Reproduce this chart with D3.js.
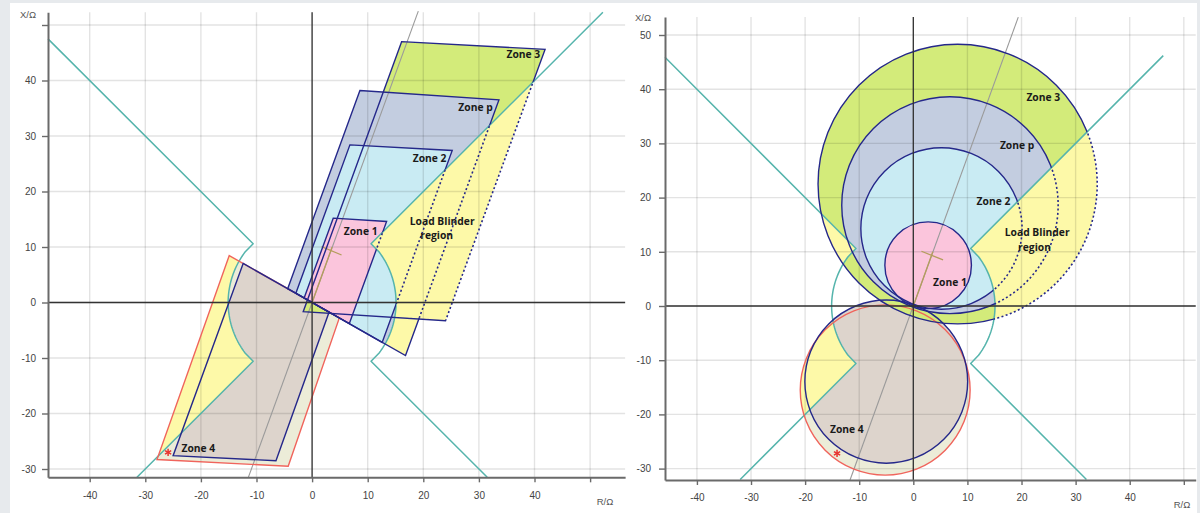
<!DOCTYPE html>
<html>
<head>
<meta charset="utf-8">
<script src="https://cdn.jsdelivr.net/npm/d3@7"></script>
<style>
  body { margin: 0; background: #e7eaed; }
  svg { display: block; }
</style>
</head>
<body>
<svg id="chart" width="1200" height="513"></svg>
<script>
// ---------- tick values ----------
const xTickValues = [-40, -30, -20, -10, 0, 10, 20, 30, 40, 50];
const xTickLabels = ["-40", "-30", "-20", "-10", "0", "10", "20", "30", "40", ""];
const yTickValues = [-30, -20, -10, 0, 10, 20, 30, 40, 50];
const yTickLabelsQuad = ["-30", "-20", "-10", "0", "10", "20", "30", "40", ""];
const yTickLabelsMho = ["-30", "-20", "-10", "0", "10", "20", "30", "40", "50"];

// ---------- quadrilateral characteristic, vertices (R, X) in ohm ----------
const quadZone1 = [[3.8, 15.2], [13.4, 14.6], [6.7, -3.8], [-1.43, 0.81]];
const quadZone2 = [[6.8, 28.4], [25.2, 27.4], [12.6, -7.2], [-2.92, 1.66]];
const quadZoneP = [[8.6, 38.2], [33.6, 36.5], [16.8, -9.55], [-4.39, 2.49]];
const quadZone3 = [[16.1, 47.0], [41.9, 45.6], [24.0, -3.3], [-1.6, -1.66]];
const quadZone4Inner = [[-12.4, 7.03], [3.06, -1.73], [-6.5, -28.5], [-25.0, -27.6]];
const quadZone4Outer = [[-14.9, 8.45], [4.9, -2.78], [-4.3, -29.5], [-27.9, -28.3]];

// ---------- mho characteristic, [centre R, centre X, radius] in ohm ----------
const mhoZone1 = [2.74, 7.52, 8.0];
const mhoZone2 = [5.2, 14.3, 14.9];
const mhoZoneP = [6.77, 18.6, 20.0];
const mhoZone3 = [8.19, 22.5, 25.8];
const mhoZone4Inner = [-5.0, -13.95, 15.05];
const mhoZone4Outer = [-5.2, -15.5, 15.7];

// ---------- load encroachment (blinder) ----------
const loadCorner = 10.6;     // |R| = |X| of the blinder corners
const loadRadius = 15.1;     // minimum load impedance
const loadArcLimit = 37;     // arc half-angle, degrees
// [upper-left, lower-left, upper-right, lower-right] ends of the blinder lines
const loadEndsQuad = [[-47.5, 47.5], [-31.5, -31.5], [52.3, 52.3], [31.5, -31.5]];
const loadEndsMho = [[-45.9, 45.9], [-32.0, -32.0], [46.2, 46.2], [32.0, -32.0]];

// ---------- line angle, line impedance and fault point ----------
const lineAngleQuad = [[-11.5, -31.6], [19.1, 52.5]];
const lineAngleMho = [[-11.7, -32.1], [19.4, 53.3]];
const lineImpedance = [[0, 0], [3.6, 10.0]];
const lineImpTickQuad = [[1.7, 10.05], [5.3, 8.56]];
const lineImpTickMho = [[1.5, 10.1], [5.5, 8.5]];
const faultQuad = [-25.9, -27.0];
const faultMho = [-14.1, -27.2];

// ---------- zone labels: [text, R, X, anchor] ----------
const labelsQuad = [
  ["Zone 3", 34.96, 44.8, "start"],
  ["Zone p", 26.3, 35.2, "start"],
  ["Zone 2", 18.1, 26.0, "start"],
  ["Zone 1", 5.7, 12.9, "start"],
  ["Load Blinder", 23.4, 14.6, "middle"],
  ["region", 22.4, 12.2, "middle"],
  ["Zone 4", -23.5, -26.2, "start"]
];
const labelsMho = [
  ["Zone 3", 20.9, 38.6, "start"],
  ["Zone p", 16.0, 29.7, "start"],
  ["Zone 2", 11.7, 19.4, "start"],
  ["Load Blinder", 22.9, 13.7, "middle"],
  ["region", 22.4, 10.9, "middle"],
  ["Zone 1", 3.66, 4.5, "start"],
  ["Zone 4", -15.4, -22.7, "start"]
];

// ---------- colours ----------
const C = {
  z1: "#fbc5dc", z2: "#c9ebf3", zp: "#c3cde0", z3: "#d3eb7a",
  z4in: "#ddd4cc", z4out: "#ececd8", load: "#fdf9a8",
  edge: "#25288a", red: "#f0645c", teal: "#55b4ac",
  lineAngle: "#9a9a9a", olive: "#b59d5c", axis: "#6a6a6a", text: "#1a1a1a"
};

const svg = d3.select("#chart");
svg.append("rect").attr("x", 10).attr("y", 3).attr("width", 1187).attr("height", 510).attr("fill", "#ffffff");
const defs = svg.append("defs");

// half-plane clip of a polygon (keeps the side left of a->b)
function clipHalf(poly, a, b) {
  const side = p => (b[0] - a[0]) * (p[1] - a[1]) - (b[1] - a[1]) * (p[0] - a[0]);
  const out = [];
  for (let i = 0; i < poly.length; i++) {
    const p = poly[i], q = poly[(i + 1) % poly.length];
    const sp = side(p), sq = side(q);
    if (sp >= 0) out.push(p);
    if ((sp >= 0) !== (sq >= 0)) {
      const t = sp / (sp - sq);
      out.push([p[0] + t * (q[0] - p[0]), p[1] + t * (q[1] - p[1])]);
    }
  }
  return out;
}

function arcPts(a0, a1, n = 48) {
  return d3.range(n + 1).map(i => {
    const a = (a0 + (a1 - a0) * i / n) * Math.PI / 180;
    return [loadRadius * Math.cos(a), loadRadius * Math.sin(a)];
  });
}

function drawPanel(cfg) {
  const { id, x, y } = cfg;
  const g = svg.append("g");
  const P = p => [x(p[0]), y(p[1])];
  const polyD = pts => "M" + pts.map(p => P(p).join(",")).join("L") + "Z";
  const circleD = c => {
    const cx = x(c[0]), cy = y(c[1]);
    const rx = x(c[0] + c[2]) - cx, ry = cy - y(c[1] + c[2]);
    return `M${cx - rx},${cy}A${rx},${ry} 0 1,0 ${cx + rx},${cy}A${rx},${ry} 0 1,0 ${cx - rx},${cy}Z`;
  };
  const shapeD = z => z.type === "poly" ? polyD(z.data) : circleD(z.data);
  const lineD = pts => d3.line()(pts.map(P));
  const big = "M0,0H1200V513H0Z";

  const lc = loadCorner;
  const rightLoad = [[90, 90], [lc, lc], ...arcPts(loadArcLimit, -loadArcLimit), [lc, -lc], [90, -90]];
  const leftLoad = [[-90, 90], [-lc, lc], ...arcPts(180 - loadArcLimit, 180 + loadArcLimit), [-lc, -lc], [-90, -90]];
  const dotRegion = cfg.dotCut ? clipHalf(rightLoad, cfg.dotCut[0], cfg.dotCut[1]) : rightLoad;

  const cid = s => `${id}-${s}`;
  defs.append("clipPath").attr("id", cid("out")).append("path")
    .attr("clip-rule", "evenodd").attr("d", big + polyD(rightLoad) + polyD(leftLoad));
  defs.append("clipPath").attr("id", cid("in")).append("path")
    .attr("d", polyD(rightLoad) + polyD(leftLoad));
  defs.append("clipPath").attr("id", cid("dot")).append("path").attr("d", polyD(dotRegion));
  defs.append("clipPath").attr("id", cid("solid")).append("path")
    .attr("clip-rule", "evenodd").attr("d", big + polyD(dotRegion));

  const [x0, x1] = x.range();
  const [yb, yt] = y.range();

  // zone fills outside the load region
  const fOut = g.append("g").attr("clip-path", `url(#${cid("out")})`);
  cfg.zones.forEach(z => fOut.append("path").attr("d", shapeD(z)).attr("fill", z.fill));
  // zone areas inside the load region
  const fIn = g.append("g").attr("clip-path", `url(#${cid("in")})`);
  cfg.zones.forEach(z => fIn.append("path").attr("d", shapeD(z)).attr("fill", C.load));

  // grid
  const grid = g.append("g").attr("stroke", "#000").attr("stroke-opacity", 0.11).attr("stroke-width", 1.4);
  xTickValues.forEach(v => grid.append("line").attr("x1", x(v)).attr("x2", x(v)).attr("y1", yt).attr("y2", yb));
  yTickValues.forEach(v => grid.append("line").attr("x1", x0).attr("x2", x1).attr("y1", y(v)).attr("y2", y(v)));

  // load blinder boundary
  const e = cfg.loadEnds;
  const tealL = [e[0], [-lc, lc], ...arcPts(180 - loadArcLimit, 180 + loadArcLimit), [-lc, -lc], e[1]];
  const tealR = [e[2], [lc, lc], ...arcPts(loadArcLimit, -loadArcLimit), [lc, -lc], e[3]];
  [tealL, tealR].forEach(t => g.append("path").attr("d", lineD(t)).attr("fill", "none")
    .attr("stroke", C.teal).attr("stroke-width", 1.5).attr("stroke-linejoin", "round"));

  // line angle and line impedance
  g.append("path").attr("d", lineD(cfg.lineAngle)).attr("stroke", C.lineAngle).attr("stroke-width", 1.1).attr("fill", "none");
  g.append("path").attr("d", lineD(lineImpedance)).attr("stroke", C.olive).attr("stroke-width", 1.3).attr("fill", "none");
  g.append("path").attr("d", lineD(cfg.impTick)).attr("stroke", C.olive).attr("stroke-width", 1.3).attr("fill", "none");

  // reverse zone outlines (always solid)
  cfg.zones.filter(z => z.reverse).forEach(z => g.append("path").attr("d", shapeD(z))
    .attr("fill", "none").attr("stroke", z.stroke).attr("stroke-width", 1.4));
  // forward zone outlines: solid outside the load region, dotted inside it
  const sSolid = g.append("g").attr("clip-path", `url(#${cid("solid")})`);
  const sDot = g.append("g").attr("clip-path", `url(#${cid("dot")})`);
  cfg.zones.filter(z => !z.reverse).forEach(z => {
    sSolid.append("path").attr("d", shapeD(z)).attr("fill", "none")
      .attr("stroke", z.stroke).attr("stroke-width", 1.4);
    sDot.append("path").attr("d", shapeD(z)).attr("fill", "none")
      .attr("stroke", z.stroke).attr("stroke-width", 1.6).attr("stroke-dasharray", "2,2.4");
  });

  // R and X axes through the origin
  g.append("line").attr("x1", x(0)).attr("x2", x(0)).attr("y1", yt).attr("y2", yb)
    .attr("stroke", "#333").attr("stroke-width", 1.3);
  g.append("line").attr("x1", x0).attr("x2", x1).attr("y1", y(0)).attr("y2", y(0))
    .attr("stroke", "#333").attr("stroke-width", 1.3);

  // frame axes
  const ax = g.append("g").attr("transform", `translate(0,${yb})`)
    .call(d3.axisBottom(x).tickValues(xTickValues).tickFormat((d, i) => xTickLabels[i])
      .tickSize(5).tickSizeOuter(0).tickPadding(cfg.xPad));
  const ay = g.append("g").attr("transform", `translate(${x0},0)`)
    .call(d3.axisLeft(y).tickValues(yTickValues).tickFormat((d, i) => cfg.yLabels[i])
      .tickSize(6).tickSizeOuter(0).tickPadding(cfg.yPad));
  [ax, ay].forEach(a => {
    a.select(".domain").attr("stroke", C.axis).attr("stroke-width", 2);
    a.selectAll(".tick line").attr("stroke", C.axis).attr("stroke-width", 1.4);
    a.selectAll("text").attr("fill", "#444").attr("font-size", 10)
      .attr("font-family", "'Liberation Sans', Arial, sans-serif");
  });

  // axis titles
  g.append("text").attr("x", cfg.xTitle[0]).attr("y", cfg.xTitle[1]).text("R/Ω")
    .attr("font-size", 9.5).attr("fill", "#555").attr("font-family", "'Liberation Sans', Arial, sans-serif")
    .attr("text-anchor", "middle").attr("dominant-baseline", "central");
  g.append("text").attr("x", cfg.yTitle[0]).attr("y", cfg.yTitle[1]).text("X/Ω")
    .attr("font-size", 9.5).attr("fill", "#555").attr("font-family", "'Liberation Sans', Arial, sans-serif")
    .attr("text-anchor", "middle").attr("dominant-baseline", "central");

  // zone labels
  cfg.labels.forEach(([t, r, xv, anchor]) => g.append("text")
    .attr("x", x(r)).attr("y", y(xv)).text(t).attr("text-anchor", anchor)
    .attr("dominant-baseline", "central").attr("font-family", "'Open Sans', sans-serif")
    .attr("font-weight", 700).attr("font-size", 10.3).attr("fill", C.text));

  // fault point
  const [fx, fy] = P(cfg.fault);
  const star = g.append("g").attr("stroke", "#e8322e").attr("stroke-width", 1.5);
  [90, 30, 150].forEach(a => {
    const r = 3.6, c = Math.cos(a * Math.PI / 180) * r, s = Math.sin(a * Math.PI / 180) * r;
    star.append("line").attr("x1", fx - c).attr("y1", fy - s).attr("x2", fx + c).attr("y2", fy + s);
  });
}

// ---------- left panel: quadrilateral ----------
const xq = d3.scaleLinear().domain([-47.5, 56.3]).range([48, 48 + 103.8 * 5.56]);
const yq = d3.scaleLinear().domain([-31.5, 52.3]).range([302.5 + 31.5 * 5.55, 302.5 - 52.3 * 5.55]);
drawPanel({
  id: "quad", x: xq, y: yq,
  zones: [
    { type: "poly", data: quadZone4Outer, fill: C.z4out, stroke: C.red, reverse: true },
    { type: "poly", data: quadZone4Inner, fill: C.z4in, stroke: C.edge, reverse: true },
    { type: "poly", data: quadZone3, fill: C.z3, stroke: C.edge },
    { type: "poly", data: quadZoneP, fill: C.zp, stroke: C.edge },
    { type: "poly", data: quadZone2, fill: C.z2, stroke: C.edge },
    { type: "poly", data: quadZone1, fill: C.z1, stroke: C.edge }
  ],
  dotCut: [[quadZone3[3][0], quadZone3[3][1] + 0.25], [quadZone3[2][0], quadZone3[2][1] + 0.25]],
  loadEnds: loadEndsQuad, lineAngle: lineAngleQuad, impTick: lineImpTickQuad, fault: faultQuad,
  labels: labelsQuad, yLabels: yTickLabelsQuad, xPad: 10, yPad: 6,
  xTitle: [605, 501], yTitle: [28, 14]
});

// ---------- right panel: mho ----------
const xm = d3.scaleLinear().domain([-45.9, 52.2]).range([665, 665 + 98.1 * 5.41]);
const ym = d3.scaleLinear().domain([-32.1, 53.3]).range([306 + 32.1 * 5.42, 306 - 53.3 * 5.42]);
drawPanel({
  id: "mho", x: xm, y: ym,
  zones: [
    { type: "circle", data: mhoZone4Outer, fill: C.z4out, stroke: C.red, reverse: true },
    { type: "circle", data: mhoZone4Inner, fill: C.z4in, stroke: C.edge, reverse: true },
    { type: "circle", data: mhoZone3, fill: C.z3, stroke: C.edge },
    { type: "circle", data: mhoZoneP, fill: C.zp, stroke: C.edge },
    { type: "circle", data: mhoZone2, fill: C.z2, stroke: C.edge },
    { type: "circle", data: mhoZone1, fill: C.z1, stroke: C.edge }
  ],
  dotCut: null,
  loadEnds: loadEndsMho, lineAngle: lineAngleMho, impTick: lineImpTickMho, fault: faultMho,
  labels: labelsMho, yLabels: yTickLabelsMho, xPad: 9, yPad: 8,
  xTitle: [1182, 504], yTitle: [643, 17]
});
</script>
</body>
</html>
